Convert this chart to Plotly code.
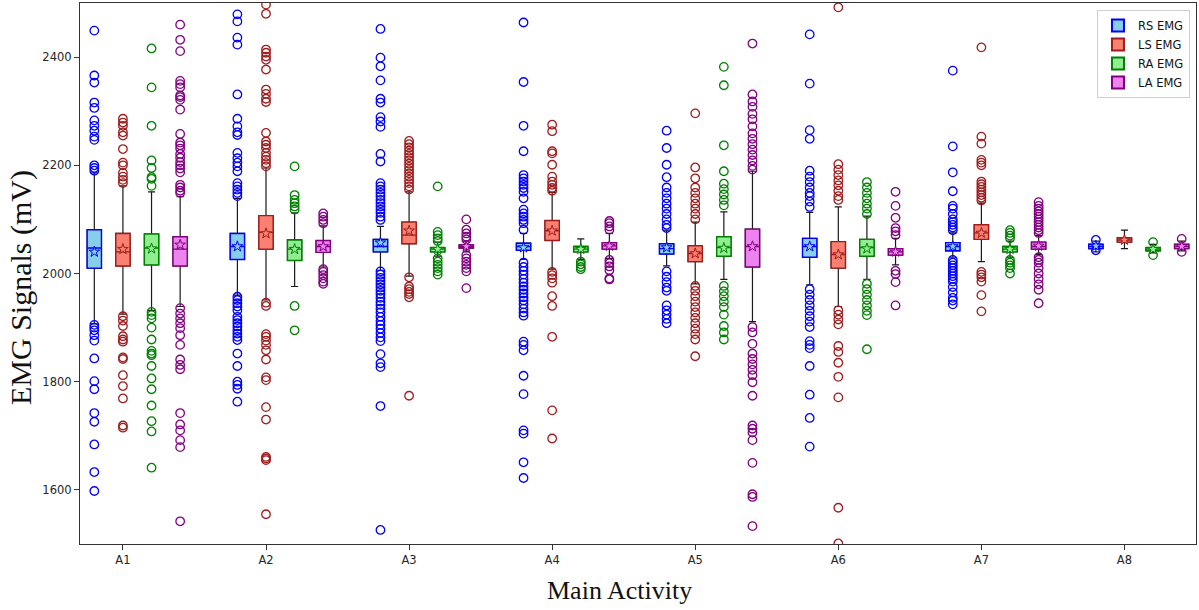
import plotly.graph_objects as go

# ---------------------------------------------------------------------------
# Data: per-channel box statistics for each main activity (mV)
# ---------------------------------------------------------------------------
ACTIVITIES = ["A1", "A2", "A3", "A4", "A5", "A6", "A7", "A8"]
CHANNELS = ["RS EMG", "LS EMG", "RA EMG", "LA EMG"]

RS_Q1 = [2010, 2026, 2040, 2043, 2036, 2030, 2042, 2046]
RS_MED = [2047, 2050, 2050, 2050, 2046, 2050, 2050, 2050]
RS_Q3 = [2081, 2074, 2063, 2056, 2055, 2065, 2057, 2054]
RS_MEAN = [2040, 2050, 2057, 2048, 2048, 2050, 2050, 2051]
RS_LO = [1907, 1960, 2006, 2026, 2014, 1979, 2030, 2040]
RS_HI = [2186, 2139, 2087, 2074, 2080, 2113, 2075, 2060]
RS_OUT = [
    [2449, 2366, 2353, 2316, 2306, 2283, 2273, 2264, 2253, 2247, 2200, 2195, 2190,
     1905, 1900, 1895, 1886, 1876, 1843, 1801, 1786, 1742, 1726, 1684, 1633, 1598],
    [2479, 2466, 2436, 2423, 2331, 2286, 2272, 2261, 2256, 2223, 2213, 2205, 2198, 2189,
     2167, 2161, 2155, 2149, 2143, 1957, 1951, 1945, 1939, 1932, 1920, 1914, 1908, 1902,
     1895, 1889, 1883, 1877, 1852, 1829, 1800, 1794, 1787, 1763],
    [2452, 2399, 2383, 2357, 2323, 2316, 2289, 2281, 2271, 2221, 2207, 2167, 2161, 2155,
     2149, 2143, 2136, 2130, 2124, 2118, 2112, 2105, 2099, 2004, 1998, 1992, 1986, 1980,
     1974, 1968, 1962, 1955, 1948, 1942, 1935, 1928, 1920, 1912, 1905, 1898, 1890, 1882,
     1875, 1851, 1834, 1827, 1755, 1526],
    [2464, 2354, 2273, 2226, 2182, 2176, 2170, 2164, 2158, 2151, 2139, 2118, 2111, 2105,
     2099, 2093, 2081, 2020, 2012, 2005, 1998, 1990, 1983, 1976, 1970, 1963, 1956, 1950,
     1943, 1935, 1928, 1922, 1874, 1868, 1858, 1811, 1777, 1710, 1704, 1651, 1622],
    [2264, 2232, 2201, 2178, 2159, 2149, 2139, 2129, 2120, 2110, 2100, 2090, 2084,
     2004, 1994, 1984, 1974, 1968, 1941, 1932, 1924, 1916, 1908],
    [2442, 2351, 2265, 2249, 2190, 2179, 2169, 2159, 2149, 2143, 2133, 2123, 1971, 1961,
     1951, 1941, 1931, 1921, 1911, 1901, 1875, 1868, 1862, 1829, 1776, 1733, 1680],
    [2375, 2235, 2187, 2152, 2125, 2120, 2110, 2100, 2095, 2090, 2085, 2080, 2025, 2020,
     2015, 2010, 2005, 2000, 1995, 1990, 1985, 1975, 1965, 1955, 1950, 1943],
    [2062, 2043],
]

LS_Q1 = [2014, 2045, 2055, 2061, 2022, 2010, 2063, 2058]
LS_MED = [2040, 2076, 2071, 2079, 2037, 2035, 2075, 2062]
LS_Q3 = [2074, 2107, 2095, 2098, 2051, 2059, 2090, 2066]
LS_MEAN = [2045, 2074, 2079, 2079, 2037, 2035, 2075, 2062]
LS_LO = [1925, 1951, 1995, 2008, 1981, 1939, 2022, 2046]
LS_HI = [2162, 2195, 2151, 2150, 2095, 2123, 2130, 2080]
LS_OUT = [
    [2286, 2279, 2273, 2261, 2255, 2230, 2205, 2200, 2186, 2179, 2173, 2167,
     1921, 1913, 1903, 1884, 1878, 1874, 1845, 1842, 1812, 1792, 1769, 1719, 1715],
    [2497, 2480, 2414, 2408, 2401, 2395, 2377, 2340, 2332, 2323, 2317, 2260, 2244, 2238,
     2232, 2223, 2216, 2210, 2204, 2198, 1946, 1940, 1888, 1883, 1876, 1868, 1858, 1841,
     1808, 1803, 1753, 1730, 1661, 1658, 1655, 1555],
    [2245, 2239, 2233, 2227, 2221, 2215, 2209, 2203, 2197, 2191, 2185, 2179, 2173, 2167,
     2161, 2155, 1993, 1976, 1971, 1966, 1962, 1956, 1774],
    [2275, 2263, 2226, 2222, 2201, 2179, 2170, 2164, 2158, 2153, 2003, 1997, 1991, 1983,
     1958, 1940, 1883, 1747, 1695],
    [2296, 2196, 2176, 2159, 2149, 2139, 2129, 2120, 2110, 2100, 1977, 1968, 1958, 1948,
     1938, 1928, 1918, 1908, 1898, 1888, 1878, 1847],
    [2492, 2202, 2192, 2182, 2172, 2163, 2153, 2143, 2136, 1932, 1924, 1915, 1906, 1866,
     1855, 1835, 1809, 1771, 1567, 1501],
    [2418, 2253, 2240, 2210, 2205, 2200, 2170, 2165, 2160, 2155, 2150, 2145, 2140, 2135,
     2003, 1998, 1993, 1985, 1960, 1930],
    [],
]

RA_Q1 = [2016, 2024, 2040, 2040, 2032, 2032, 2040, 2042]
RA_MED = [2047, 2045, 2045, 2045, 2048, 2048, 2045, 2045]
RA_Q3 = [2073, 2062, 2048, 2050, 2068, 2063, 2050, 2048]
RA_MEAN = [2046, 2045, 2045, 2045, 2047, 2046, 2045, 2045]
RA_LO = [1932, 1976, 2032, 2026, 1989, 1989, 2030, 2038]
RA_HI = [2151, 2112, 2058, 2064, 2114, 2106, 2060, 2054]
RA_OUT = [
    [2416, 2344, 2273, 2209, 2195, 2178, 2175, 2162, 1929, 1923, 1917, 1900, 1878, 1857,
     1852, 1849, 1829, 1806, 1786, 1756, 1727, 1708, 1641],
    [2198, 2145, 2136, 2130, 2124, 2118, 1940, 1895],
    [2161, 2077, 2071, 2065, 2060, 2028, 2022, 2016, 2010, 2004, 1998],
    [2022, 2017, 2012, 2008],
    [2382, 2348, 2237, 2189, 2166, 2156, 2146, 2136, 2126, 1977, 1967, 1958, 1948, 1938,
     1924, 1903, 1891, 1878],
    [2169, 2159, 2149, 2139, 2129, 2120, 2110, 1981, 1971, 1961, 1951, 1941, 1931, 1923,
     1860],
    [2080, 2075, 2070, 2065, 2025, 2020, 2015, 2010, 2000],
    [2058, 2034],
]

LA_Q1 = [2014, 2039, 2047, 2045, 2012, 2034, 2045, 2046]
LA_MED = [2045, 2050, 2050, 2051, 2050, 2040, 2050, 2050]
LA_Q3 = [2068, 2061, 2053, 2057, 2082, 2046, 2058, 2054]
LA_MEAN = [2053, 2050, 2050, 2051, 2050, 2040, 2051, 2050]
LA_LO = [1939, 2012, 2040, 2028, 1911, 2016, 2035, 2042]
LA_HI = [2142, 2088, 2060, 2074, 2189, 2065, 2070, 2060]
LA_OUT = [
    [2460, 2432, 2411, 2356, 2350, 2344, 2329, 2326, 2321, 2303, 2258, 2242, 2237, 2231,
     2221, 2214, 2206, 2200, 2194, 2187, 2164, 2159, 2153, 2149, 1936, 1926, 1917, 1908,
     1899, 1886, 1868, 1841, 1831, 1823, 1742, 1721, 1710, 1692, 1679, 1542],
    [2111, 2105, 2099, 2093, 2008, 2003, 1997, 1991, 1985, 1981],
    [2100, 2081, 2074, 2068, 2063, 2034, 2028, 2022, 2016, 2010, 2004, 1973],
    [2097, 2093, 2087, 2081, 2025, 2019, 2013, 2006, 1991, 1989],
    [2425, 2331, 2318, 2308, 2295, 2285, 2272, 2259, 2249, 2239, 2229, 2219, 2209, 2199,
     2192, 1901, 1891, 1870, 1852, 1842, 1832, 1822, 1812, 1799, 1774, 1719, 1713, 1706,
     1692, 1650, 1592, 1587, 1533],
    [2151, 2125, 2103, 2084, 2078, 2071, 2005, 1999, 1984, 1941],
    [2132, 2125, 2120, 2115, 2110, 2105, 2100, 2095, 2090, 2085, 2080, 2075, 2030, 2025,
     2020, 2010, 2000, 1990, 1980, 1970, 1945],
    [2064, 2040],
]

# ---------------------------------------------------------------------------
# Styling
# ---------------------------------------------------------------------------
FILL_COLORS = ["#87CEEB", "#FA8072", "#90EE90", "#EE82EE"]
EDGE_COLORS = ["#0000FF", "#A01C1C", "#008000", "#800080"]
BOX_WIDTH = 0.1
STEP = 0.2          # offset between channels inside one activity group
WHISKER = "#1a1a1a"

stats = [
    (RS_Q1, RS_MED, RS_Q3, RS_MEAN, RS_LO, RS_HI, RS_OUT),
    (LS_Q1, LS_MED, LS_Q3, LS_MEAN, LS_LO, LS_HI, LS_OUT),
    (RA_Q1, RA_MED, RA_Q3, RA_MEAN, RA_LO, RA_HI, RA_OUT),
    (LA_Q1, LA_MED, LA_Q3, LA_MEAN, LA_LO, LA_HI, LA_OUT),
]

fig = go.Figure()

# whiskers + caps (black) underneath the coloured boxes
for j, (q1, med, q3, mean, lo, hi, out) in enumerate(stats):
    pos = [i + 1 + STEP * j for i in range(len(ACTIVITIES))]
    fig.add_trace(go.Box(
        x=pos, q1=q1, median=med, q3=q3, lowerfence=lo, upperfence=hi,
        width=BOX_WIDTH, whiskerwidth=0.5, boxpoints=False,
        fillcolor="rgba(0,0,0,0)", line=dict(color=WHISKER, width=1.2),
        showlegend=False, hoverinfo="skip",
    ))

# coloured boxes with median line
for j, (q1, med, q3, mean, lo, hi, out) in enumerate(stats):
    pos = [i + 1 + STEP * j for i in range(len(ACTIVITIES))]
    fig.add_trace(go.Box(
        x=pos, q1=q1, median=med, q3=q3, lowerfence=q1, upperfence=q3,
        width=BOX_WIDTH, whiskerwidth=0, boxpoints=False,
        fillcolor=FILL_COLORS[j], line=dict(color=EDGE_COLORS[j], width=1.4),
        name=CHANNELS[j], legendgroup=CHANNELS[j],
    ))

# outliers (hollow circles)
for j, (q1, med, q3, mean, lo, hi, out) in enumerate(stats):
    xs, ys = [], []
    for i, vals in enumerate(out):
        xs += [i + 1 + STEP * j] * len(vals)
        ys += vals
    fig.add_trace(go.Scatter(
        x=xs, y=ys, mode="markers",
        marker=dict(symbol="circle-open", size=8.5, color=EDGE_COLORS[j],
                    line=dict(width=1.3, color=EDGE_COLORS[j])),
        showlegend=False, legendgroup=CHANNELS[j], hoverinfo="y",
    ))

# mean markers (stars)
for j, (q1, med, q3, mean, lo, hi, out) in enumerate(stats):
    pos = [i + 1 + STEP * j for i in range(len(ACTIVITIES))]
    fig.add_trace(go.Scatter(
        x=pos, y=mean, mode="markers",
        marker=dict(symbol="star", size=8, color=FILL_COLORS[j],
                    line=dict(width=1, color=EDGE_COLORS[j])),
        showlegend=False, legendgroup=CHANNELS[j], hoverinfo="y",
    ))

tick_font = dict(family="DejaVu Sans", size=11.5, color="#262626")

fig.update_layout(
    width=1199, height=610,
    margin=dict(l=80, r=3, t=3, b=66),
    paper_bgcolor="white", plot_bgcolor="white",
    boxmode="overlay",
    showlegend=True,
    legend=dict(
        x=0.9946, y=0.987, xanchor="right", yanchor="top",
        bgcolor="white", bordercolor="#D0D0D0", borderwidth=1,
        font=dict(family="DejaVu Sans", size=11.5, color="#111111"),
        tracegroupgap=0, itemsizing="constant",
    ),
    xaxis=dict(
        range=[0.9, 8.7],
        tickmode="array",
        tickvals=[i + 1 + STEP for i in range(len(ACTIVITIES))],
        ticktext=ACTIVITIES,
        ticks="outside", ticklen=5, tickwidth=1, tickcolor="#333333",
        tickfont=tick_font,
        showgrid=False, zeroline=False,
        showline=True, linecolor="#333333", linewidth=1.2, mirror=True,
    ),
    yaxis=dict(
        range=[1500, 2500],
        tickvals=[1600, 1800, 2000, 2200, 2400],
        ticks="outside", ticklen=5, tickwidth=1, tickcolor="#333333",
        tickfont=tick_font,
        showgrid=False, zeroline=False,
        showline=True, linecolor="#333333", linewidth=1.2, mirror=True,
    ),
    annotations=[
        dict(text="EMG Signals (mV)", xref="paper", yref="paper",
             x=-59 / 1116, y=1 - (288 - 3) / 541, xanchor="center", yanchor="middle",
             textangle=-90, showarrow=False,
             font=dict(family="Liberation Serif", size=30, color="#111111")),
        dict(text="Main Activity", xref="paper", yref="paper",
             x=(619 - 80) / 1116, y=-46 / 541, xanchor="center", yanchor="middle",
             showarrow=False,
             font=dict(family="Liberation Serif", size=26, color="#111111")),
    ],
)

fig.write_html("out.html")
